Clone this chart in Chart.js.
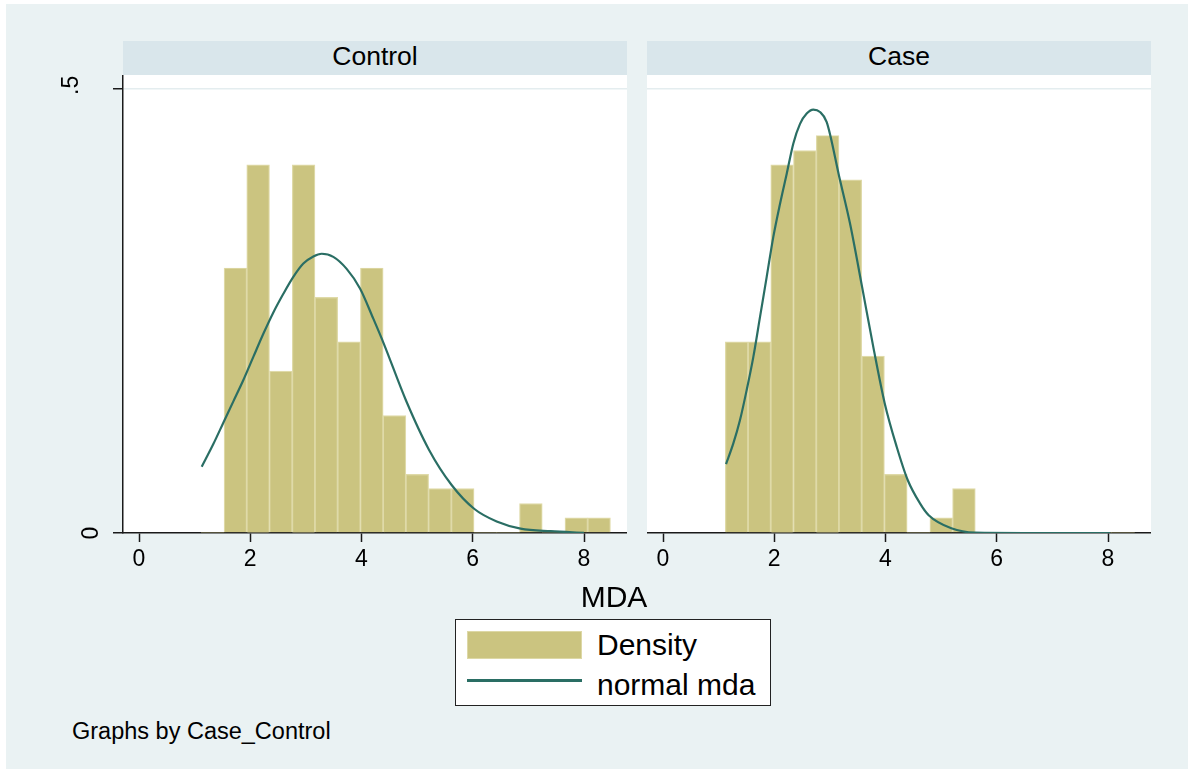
<!DOCTYPE html>
<html>
<head>
<meta charset="utf-8">
<script src="https://cdn.jsdelivr.net/npm/chart.js@4.4.0/dist/chart.umd.min.js"></script>
<style>
  html, body { margin:0; padding:0; background:#fff; }
  body { width:1188px; height:769px; position:relative; overflow:hidden; font-family:"Liberation Sans", Arial, sans-serif; color:#000; }
  #bg { position:absolute; left:6px; top:4px; right:0; bottom:0; background:#EAF2F3; }
  .abs { position:absolute; }
  .strip { position:absolute; top:41px; height:34px; background:#D9E6EB; text-align:center; font-size:26.5px; line-height:30px; }
  .box { position:absolute; }
  #legend { left:455px; top:619px; width:314px; height:85px; background:#fff; border:1.5px solid #222; }
  .txt { position:absolute; white-space:nowrap; }
</style>
</head>
<body>
<div id="bg"></div>
<div class="strip" style="left:123px;width:504px;">Control</div>
<div class="strip" style="left:647px;width:504px;">Case</div>
<div class="box" id="boxL" style="left:40px;top:75px;width:587px;height:510px;"><canvas id="chartL"></canvas></div>
<div class="box" id="boxR" style="left:647px;top:75px;width:504px;height:510px;"><canvas id="chartR"></canvas></div>
<div class="txt" style="left:514px;width:200px;top:580px;text-align:center;font-size:30px;line-height:34px;">MDA</div>
<div id="legend" class="abs"></div>
<div class="abs" style="left:467px;top:631px;width:113px;height:26px;background:#CBC480;border:1px solid #DDD8A6;"></div>
<div class="abs" style="left:467px;top:679px;width:115px;height:3px;background:#2A6E64;"></div>
<div class="txt" style="left:597px;top:628px;font-size:30px;line-height:34px;">Density</div>
<div class="txt" style="left:597px;top:668px;font-size:30px;line-height:34px;">normal mda</div>
<div class="txt" style="left:72px;top:717px;font-size:23.5px;line-height:28px;">Graphs by Case_Control</div>

<script>
// histogram bins (midpoints, width ~0.409) shared by both panels
const binMid = [1.324, 1.733, 2.141, 2.550, 2.959, 3.367, 3.776, 4.185, 4.593, 5.002, 5.410, 5.819, 6.228, 6.636, 7.045, 7.453, 7.862, 8.271];
const controlDensity = [0, 0.298, 0.414, 0.182, 0.414, 0.265, 0.215, 0.298, 0.132, 0.066, 0.050, 0.050, 0, 0, 0.033, 0, 0.017, 0.017];
const caseDensity = [0.215, 0.215, 0.414, 0.430, 0.447, 0.397, 0.199, 0.066, 0, 0.017, 0.050, 0, 0, 0, 0, 0, 0, 0];

// normal curves
const controlCurveX = [1.127, 1.336, 1.516, 1.696, 1.876, 2.055, 2.235, 2.415, 2.595, 2.774, 2.954, 3.134, 3.284, 3.493, 3.733, 3.973, 4.212, 4.40, 4.80, 5.21, 5.62, 6.03, 6.43, 6.86, 7.4, 8.0];
const controlCurveY = [0.0745, 0.1, 0.124, 0.148, 0.172, 0.198, 0.224, 0.248, 0.269, 0.288, 0.303, 0.311, 0.314, 0.3105, 0.297, 0.275, 0.241, 0.213, 0.149, 0.094, 0.054, 0.027, 0.013, 0.005, 0.002, 0.0003];
const caseCurveX = [1.133, 1.264, 1.384, 1.504, 1.624, 1.744, 1.864, 1.983, 2.103, 2.224, 2.343, 2.463, 2.583, 2.702, 2.822, 2.943, 3.170, 3.362, 3.578, 3.781, 3.985, 4.201, 4.399, 4.620, 4.776, 5.183, 5.609, 6.5, 8.04];
const caseCurveY = [0.0775, 0.1007, 0.127, 0.1607, 0.198, 0.243, 0.288, 0.333, 0.370, 0.404, 0.438, 0.460, 0.4716, 0.476, 0.4734, 0.462, 0.400, 0.348, 0.277, 0.209, 0.146, 0.097, 0.0596, 0.0333, 0.020, 0.0053, 0.0004, 0, 0];

const xTicks = [0, 2, 4, 6, 8];
const yTicks = [0, 0.5];
const yTickLabels = ['0', '.5'];

const X_MIN = -0.288, X_MAX = 8.773, Y_MAX = 0.515;
const FILL = '#CBC480', EDGE = '#DFDAA8', LINE = '#2A6E64', AXIS = '#1a1a1a';
const FONT = '"Liberation Sans", Arial, sans-serif';

const whitePlot = {
  id:'whitePlot',
  beforeDraw(chart){
    const a = chart.chartArea, ctx = chart.ctx;
    ctx.save(); ctx.fillStyle = '#fff';
    ctx.fillRect(a.left, a.top, a.right - a.left, a.bottom - a.top);
    ctx.restore();
  }
};

// rotated y labels (left panel only)
const yLabels = {
  id:'yLabels',
  afterDraw(chart){
    const ys = chart.scales.y, ctx = chart.ctx, left = chart.chartArea.left;
    ctx.save();
    ctx.font = '23px ' + FONT; ctx.fillStyle = '#000';
    ctx.textAlign = 'center'; ctx.textBaseline = 'middle';
    yTicks.forEach((v, i) => {
      const py = ys.getPixelForValue(v);
      const px = v > 0 ? left - 51 : left - 31;
      ctx.save(); ctx.translate(px, py - (v > 0 ? 3 : 0)); ctx.rotate(-Math.PI/2);
      ctx.fillText(yTickLabels[i], 0, 0);
      ctx.restore();
    });
    ctx.restore();
  }
};

function makePanel(id, density, cx, cy, withAxis){
  const bars = binMid.map((x, i) => ({ x, y: density[i] }));
  const curve = cx.map((x, i) => ({ x, y: cy[i] }));
  return new Chart(document.getElementById(id).getContext('2d'), {
    type:'bar',
    data:{ datasets:[
      { type:'line', data:curve, borderColor:LINE, borderWidth:2.2, pointRadius:0, fill:false,
        cubicInterpolationMode:'monotone', order:0 },
      { type:'bar', data:bars, backgroundColor:FILL, borderColor:EDGE,
        borderWidth: c => (c.raw && c.raw.y > 0) ? 1.2 : 0,
        barPercentage:1, categoryPercentage:1, order:1 }
    ]},
    options:{
      responsive:true, maintainAspectRatio:false, animation:false, devicePixelRatio:1,
      layout:{ padding:0 },
      plugins:{ legend:{display:false}, tooltip:{enabled:false} },
      scales:{
        x:{ type:'linear', min:X_MIN, max:X_MAX, offset:false,
            afterBuildTicks: s => { s.ticks = xTicks.map(v => ({ value:v })); },
            afterFit: s => { s.height = 52; },
            border:{ display:true, color:AXIS, width:1.5 },
            grid:{ display:true, offset:false, drawOnChartArea:false, drawTicks:true, tickLength:9, tickColor:AXIS, tickWidth:1.5 },
            ticks:{ autoSkip:false, maxRotation:0, padding:4, color:'#000', font:{ family:FONT, size:23 } } },
        y:{ type:'linear', min:0, max:Y_MAX, display:true,
            afterBuildTicks: s => { s.ticks = yTicks.map(v => ({ value:v })); },
            afterFit: s => { s.width = withAxis ? 83 : 0; },
            border:{ display:withAxis, color:AXIS, width:1.5 },
            grid:{ display:true, color: c => c.tick && c.tick.value > 0 ? '#E4EDEF' : 'rgba(0,0,0,0)', lineWidth:1.5,
                   drawTicks:withAxis, tickLength:10, tickColor:AXIS, tickWidth:1.5 },
            ticks:{ display:false } }
      }
    },
    plugins: withAxis ? [whitePlot, yLabels] : [whitePlot]
  });
}

makePanel('chartL', controlDensity, controlCurveX, controlCurveY, true);
makePanel('chartR', caseDensity, caseCurveX, caseCurveY, false);
</script>
</body>
</html>
